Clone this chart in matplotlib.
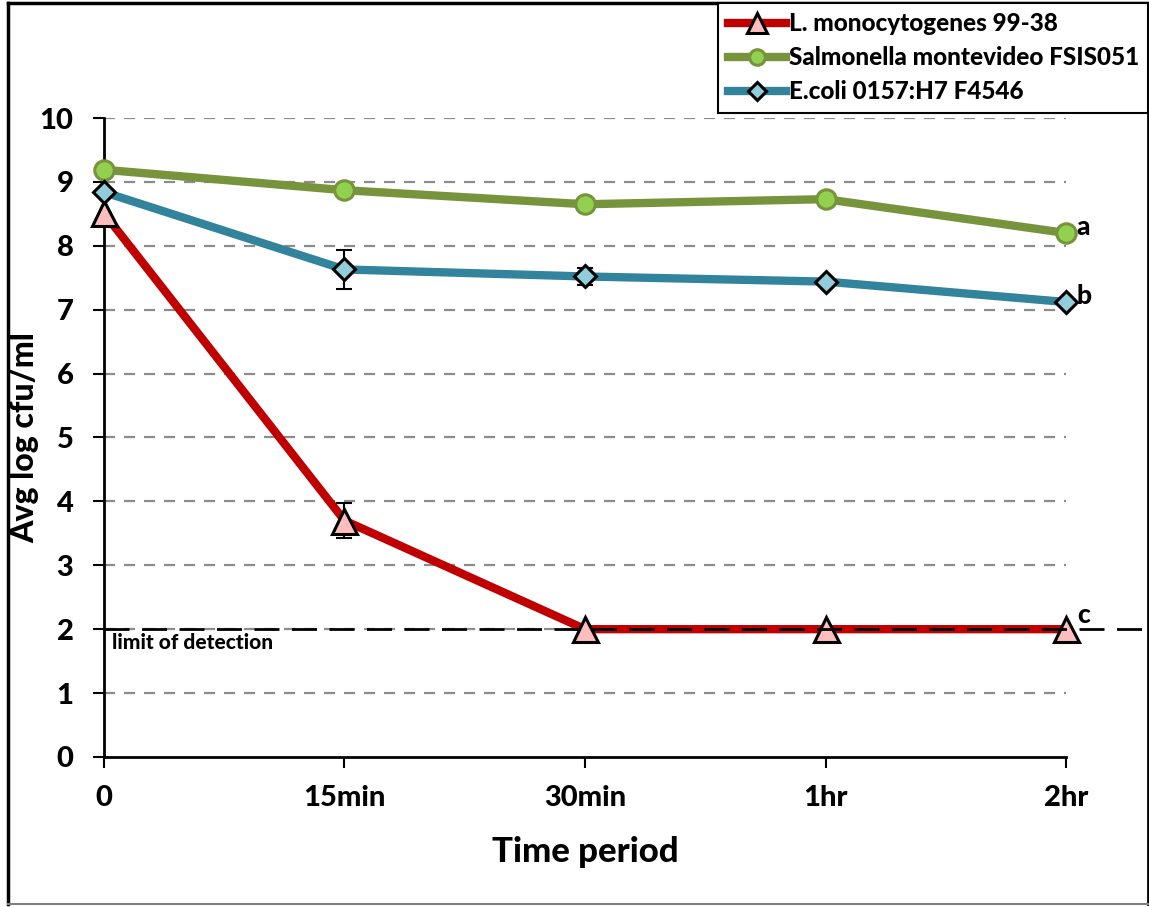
import matplotlib.pyplot as plt
from matplotlib.lines import Line2D

plt.rcParams['font.family'] = ['Lato', 'DejaVu Sans']
plt.rcParams['font.weight'] = 'black'

time_labels = ['0', '15min', '30min', '1hr', '2hr']

listeria = [8.51, 3.70, 2.0, 2.0, 2.0]
listeria_err = [0.0, 0.28, 0.0, 0.0, 0.0]
salmonella = [9.19, 8.87, 8.65, 8.73, 8.20]
salmonella_err = [0.0, 0.0, 0.0, 0.0, 0.0]
ecoli = [8.84, 7.63, 7.52, 7.44, 7.12]
ecoli_err = [0.0, 0.31, 0.13, 0.0, 0.0]

series_names = ['L. monocytogenes 99-38',
                'Salmonella montevideo FSIS051',
                'E.coli 0157:H7 F4546']
group_letters = ['c', 'a', 'b']
detection_limit = 2.0

W = 'black'


def draw_series(ax, x, y, err, name, color, marker, face, edge, ms):
    ax.errorbar(x, y, yerr=err, fmt='none', ecolor='black', elinewidth=1.5,
                capsize=6, capthick=1.5, zorder=3)
    ax.plot(x, y, color=color, lw=6, marker=marker, ms=ms, mfc=face,
            mec=edge, mew=2.2, label=name, zorder=4, clip_on=False)


def main():
    fig = plt.figure(figsize=(11.49, 9.07), dpi=100)
    ax = fig.add_axes([0.0905, 0.1654, 0.8373, 0.7045])
    x = list(range(len(time_labels)))

    # horizontal gridlines
    for level in range(1, 11):
        ax.axhline(level, color='#8c8c8c', lw=1.6, ls=(0, (5, 4)), zorder=1)

    # detection limit, runs past the plot area
    ax.plot([-0.0, 4.32], [detection_limit, detection_limit], color='black',
            lw=2, ls=(0, (9, 4.5)), zorder=5, clip_on=False)
    ax.text(0.035, detection_limit - 0.06, 'limit of detection', fontsize=15,
            fontweight=W, va='top', ha='left')

    draw_series(ax, x, listeria, listeria_err, series_names[0],
                '#C00000', '^', '#FFBDBD', 'black', 18)
    draw_series(ax, x, salmonella, salmonella_err, series_names[1],
                '#77933C', 'o', '#92D050', '#77933C', 14)
    draw_series(ax, x, ecoli, ecoli_err, series_names[2],
                '#31849B', 'D', '#92CDDC', 'black', 11)

    # letters for significance groups at the last time point
    for vals, letter, dy in zip([listeria, salmonella, ecoli], group_letters,
                                [0.22, 0.1, 0.1]):
        ax.text(x[-1] + 0.045, vals[-1] + dy, letter, fontsize=19,
                fontweight=W, va='center', ha='left')

    ax.set_xlim(0, 4)
    ax.set_ylim(0, 10)
    ax.set_yticks(range(0, 11))
    ax.set_xticks(x)
    ax.set_xticklabels(time_labels)
    ax.tick_params(axis='y', direction='out', length=8, width=1.5,
                   labelsize=21, pad=14)
    ax.tick_params(axis='x', direction='out', length=8, width=1.5,
                   labelsize=21, pad=12)
    for lbl in ax.get_xticklabels() + ax.get_yticklabels():
        lbl.set_fontweight(W)
    ax.spines['top'].set_visible(False)
    ax.spines['right'].set_visible(False)
    ax.spines['left'].set_linewidth(2)
    ax.spines['bottom'].set_linewidth(2)

    ax.set_xlabel('Time period', fontsize=25, fontweight=W, labelpad=18)
    ax.set_ylabel('Avg log cfu/ml', fontsize=23, fontweight=W)
    ax.yaxis.set_label_coords(-0.067, 0.5)

    handles, labels = ax.get_legend_handles_labels()
    leg = fig.legend(handles, labels, loc='upper right',
                     bbox_to_anchor=(0.9995, 0.997), frameon=True,
                     fancybox=False, edgecolor='black', framealpha=1,
                     prop={'weight': W, 'size': 17.5},
                     handlelength=2.4, handletextpad=0.1, labelspacing=0.45,
                     borderpad=0.4, borderaxespad=0)
    leg.get_frame().set_linewidth(1.5)
    for h in leg.legend_handles:
        h.set_markersize(h.get_markersize() * 0.8)

    # outer frame around the figure
    fig.add_artist(Line2D([0.007, 0.007], [0.003, 0.997], color='black',
                          lw=2.5, transform=fig.transFigure))
    fig.add_artist(Line2D([0.007, 0.999], [0.997, 0.997], color='black',
                          lw=2.5, transform=fig.transFigure))
    fig.add_artist(Line2D([0.999, 0.999], [0.003, 0.997], color='black',
                          lw=2, transform=fig.transFigure))
    fig.add_artist(Line2D([0.007, 0.999], [0.003, 0.003], color='#808080',
                          lw=1.5, transform=fig.transFigure))

    fig.savefig('out.png', dpi=100)


if __name__ == "__main__":
    main()
